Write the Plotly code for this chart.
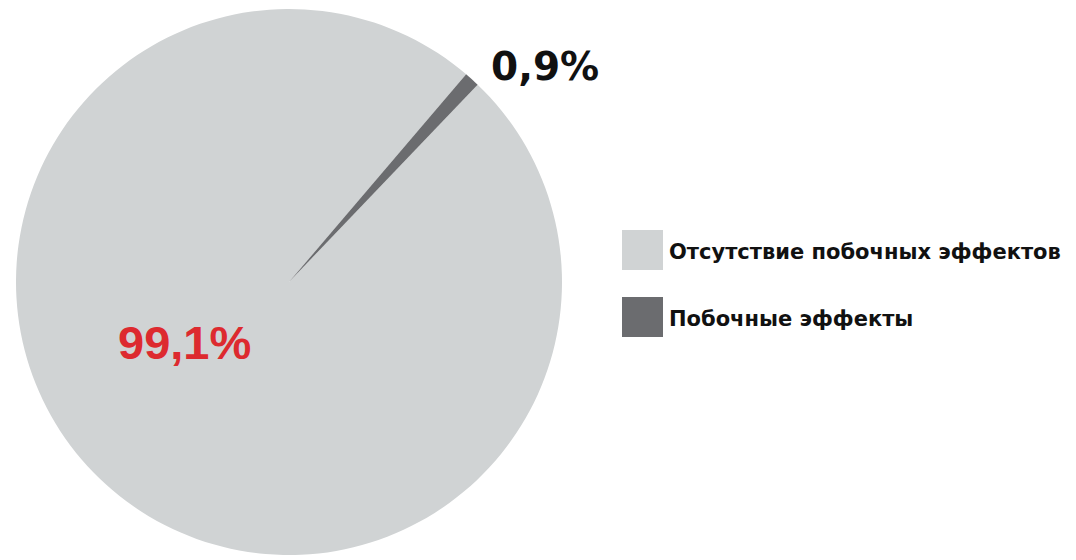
import plotly.graph_objects as go

labels = ["Отсутствие побочных эффектов", "Побочные эффекты"]
values = [99.1, 0.9]
colors = ["#d0d3d4", "#6b6c6f"]
label_colors = ["#dd2a2f", "#111111"]

def fmt(v):
    return f"{v:.1f}".replace(".", ",") + "%"

W, H = 1076, 560
OFF = 8  # page body margin
cx, cy, R = 289 - OFF, 282 - OFF, 273

fig = go.Figure()
fig.add_trace(go.Pie(
    labels=labels, values=values, sort=False, direction="clockwise",
    rotation=43.7, marker=dict(colors=colors, line=dict(width=0)),
    textinfo="none", hoverinfo="label+percent", showlegend=False,
    domain=dict(x=[(cx - R) / W, (cx + R) / W],
                y=[(H - cy - R) / H, (H - cy + R) / H]),
))

# value labels: (x, y, size, family)
pos = [(184.5, 342, 47, "Liberation Sans"), (545, 67, 39, "DejaVu Sans")]
for v, c, (px, py, fs, fam) in zip(values, label_colors, pos):
    fig.add_annotation(x=(px - OFF) / W, y=1 - (py - OFF) / H, xref="paper", yref="paper",
                       text="<b>" + fmt(v) + "</b>", showarrow=False,
                       font=dict(family=fam, size=fs, color=c),
                       xanchor="center", yanchor="middle")

# legend
leg_y = [250, 317]
for lab, col, ly in zip(labels, colors, leg_y):
    y0 = ly - OFF
    fig.add_shape(type="rect", xref="paper", yref="paper",
                  x0=(622 - OFF) / W, x1=(663 - OFF) / W,
                  y0=1 - (y0 - 20) / H, y1=1 - (y0 + 20) / H,
                  fillcolor=col, line=dict(width=0))
    fig.add_annotation(x=(667 - OFF) / W, y=1 - (y0 + 2) / H, xref="paper", yref="paper",
                       text="<b>" + lab + "</b>", showarrow=False,
                       xanchor="left", yanchor="middle",
                       font=dict(family="DejaVu Sans", size=21, color="#111111"))

fig.update_layout(width=W, height=H, margin=dict(l=0, r=0, t=0, b=0),
                  paper_bgcolor="white", plot_bgcolor="white")
fig.write_html("out.html")
